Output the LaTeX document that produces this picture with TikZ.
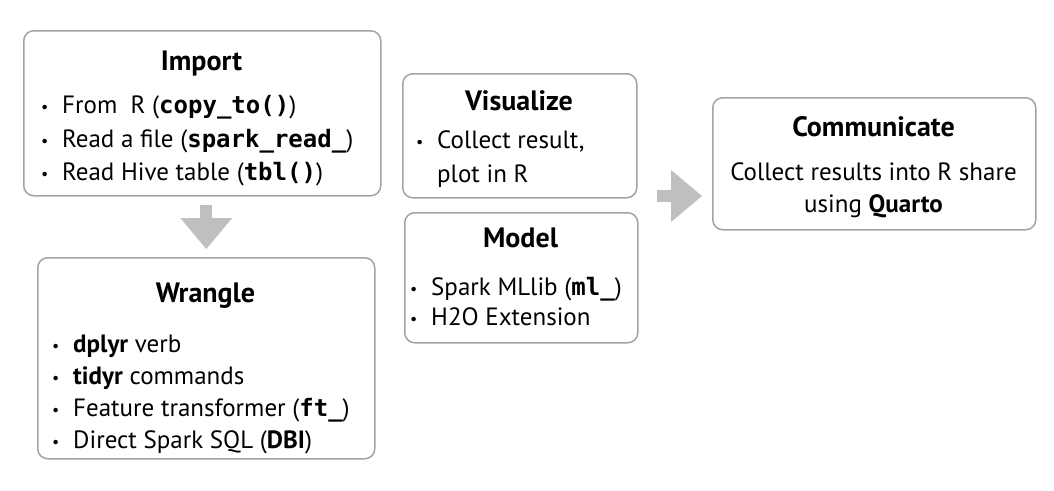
\documentclass[tikz,border=0pt]{standalone}
\usepackage{fontspec}
\setmainfont{PT Sans}
\newfontfamily\codefont{DejaVu Sans Mono}[Scale=0.96]
\usepackage{xcolor}
\usetikzlibrary{arrows.meta}

\definecolor{boxgray}{HTML}{A3A3A3}
\definecolor{arrowgray}{HTML}{BFBFBF}
\newcommand{\code}[1]{{\codefont\bfseries #1}}
\newcommand{\bul}{\makebox[21pt][l]{\raisebox{0.5pt}{\fontsize{16}{16}\selectfont\textbullet}}}

\begin{document}
\begin{tikzpicture}[x=1pt,y=-1pt,
    stage/.style={draw=boxgray, line width=1.5pt, rounded corners=10pt, anchor=north west, inner sep=0pt},
    heading/.style={font=\fontsize{28}{33}\selectfont\bfseries, anchor=base, inner sep=0pt},
    entry/.style={font=\fontsize{25}{30}\selectfont, anchor=base west, inner sep=0pt},
    flow/.style={draw=arrowgray, line width=12pt, -{Triangle[width=52pt,length=31pt,line width=0pt]}}]
    \useasboundingbox (0,0) rectangle (1054,490);

    % import
    \node[stage, minimum width=357pt, minimum height=165pt] (import) at (23,30) {};
    \node[heading] (importtitle) at (201.5,70) {Import};
    \node[entry] (import1) at (41,113) {\bul From\ \ R (\code{copy\_to()})};
    \node[entry] (import2) at (41,147) {\bul Read a file (\code{spark\_read\_})};
    \node[entry] (import3) at (41,180) {\bul Read Hive table (\code{tbl()})};

    % wrangle
    \node[stage, minimum width=337pt, minimum height=201pt] (wrangle) at (37,257) {};
    \node[heading] (wrangletitle) at (205.5,302) {Wrangle};
    \node[entry] (wrangle1) at (52,352) {\bul \textbf{dplyr} verb};
    \node[entry] (wrangle2) at (52,384) {\bul \textbf{tidyr} commands};
    \node[entry] (wrangle3) at (52,416) {\bul Feature transformer (\code{ft\_})};
    \node[entry] (wrangle4) at (52,448) {\bul Direct Spark SQL (\textbf{DBI})};

    % visualize
    \node[stage, minimum width=234pt, minimum height=124pt] (visualize) at (402,73) {};
    \node[heading] (visualizetitle) at (519,110) {Visualize};
    \node[entry] (visualize1) at (416,148) {\bul Collect result,};
    \node[entry] (visualize2) at (437,182) {plot in R};

    % model
    \node[stage, minimum width=233pt, minimum height=130pt] (model) at (404,212) {};
    \node[heading] (modeltitle) at (520.5,247) {Model};
    \node[entry] (model1) at (410,295) {\bul Spark MLlib (\code{ml\_})};
    \node[entry] (model2) at (410,325) {\bul H2O Extension};

    % communicate
    \node[stage, minimum width=323pt, minimum height=132pt] (communicate) at (712,97) {};
    \node[heading] (communicatetitle) at (873.5,136) {Communicate};
    \node[entry, anchor=base] (communicate1) at (873.5,180) {Collect results into R share};
    \node[entry, anchor=base] (communicate2) at (873.5,212) {using \textbf{Quarto}};

    % arrows
    \coordinate (flowrow) at (0,196);
    \draw[flow, shorten <=8pt, shorten >=8pt] (wrangle.north |- import.south) -- (wrangle.north);
    \draw[flow, shorten <=18pt, shorten >=10pt] (model.east |- flowrow) -- (communicate.west |- flowrow);
\end{tikzpicture}
\end{document}
